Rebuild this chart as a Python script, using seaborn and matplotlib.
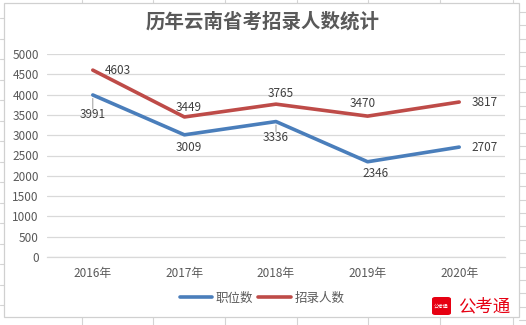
import matplotlib
matplotlib.use("Agg")
import matplotlib.pyplot as plt
from matplotlib.patches import Rectangle, FancyBboxPatch
from matplotlib.lines import Line2D
import pandas as pd
import seaborn as sns

years = ["2016年", "2017年", "2018年", "2019年", "2020年"]
positions = [3991, 3009, 3336, 2346, 2707]   # 职位数
recruits = [4603, 3449, 3765, 3470, 3817]    # 招录人数
series_names = ["职位数", "招录人数"]
y_ticks = [0, 500, 1000, 1500, 2000, 2500, 3000, 3500, 4000, 4500, 5000]

sns.set_theme(style="white")
plt.rcParams["font.family"] = ["Noto Sans CJK SC", "DejaVu Sans"]

W, H = 526, 325
fig = plt.figure(figsize=(W / 100, H / 100), dpi=100)
fig.patch.set_facecolor("white")


def fx(px):
    return px / W


def fy(py):
    return 1 - py / H


# spreadsheet cell lines behind the chart
cell = "#d4d4d4"
for x in [82, 153, 225, 297, 368, 440, 513]:
    fig.add_artist(Line2D([fx(x), fx(x)], [0, 1], color=cell, lw=0.8, zorder=0))
y = 18.0
while y < H:
    fig.add_artist(Line2D([0, fx(4)], [fy(y), fy(y)], color=cell, lw=0.8, zorder=0))
    y += 20.5
y = 12.0
while y < H:
    fig.add_artist(Line2D([fx(519), 1], [fy(y), fy(y)], color=cell, lw=0.8, zorder=0))
    y += 13.4

# chart area
fig.add_artist(Rectangle((fx(4), fy(317)), fx(515), 314 / H, facecolor="white",
                         edgecolor="#d0d0d0", lw=0.9, zorder=1))

ax = fig.add_axes([fx(47), fy(257), fx(458), 203 / H], zorder=2)
ax.set_facecolor("none")

df = pd.DataFrame({
    "x": list(range(len(years))) * 2,
    "value": positions + recruits,
    "series": [series_names[0]] * len(years) + [series_names[1]] * len(years),
})
palette = {series_names[0]: "#4a7ebb", series_names[1]: "#be4b48"}
sns.lineplot(data=df, x="x", y="value", hue="series", palette=palette,
             linewidth=2.6, ax=ax, legend=False, zorder=3)

ax.set_xlim(-0.5, len(years) - 0.5)
ax.set_ylim(0, 5000)
ax.set_yticks(y_ticks)
ax.set_yticklabels([str(v) for v in y_ticks])
ax.set_xticks(range(len(years)))
ax.set_xticklabels(years)
ax.grid(axis="y", color="#d9d9d9", lw=0.9)
ax.grid(axis="x", visible=False)
for s in ax.spines.values():
    s.set_visible(False)
ax.spines["bottom"].set_visible(True)
ax.spines["bottom"].set_color("#d9d9d9")
ax.spines["bottom"].set_linewidth(0.9)
ax.tick_params(axis="both", length=0, labelsize=8.5, colors="#595959")
ax.tick_params(axis="y", pad=6)
ax.tick_params(axis="x", pad=7)
ax.set_xlabel("")
ax.set_ylabel("")

lab = dict(fontsize=8.5, color="#404040", zorder=4)
k = 0.72  # pixels -> points

# 职位数 labels (offsets in pixels: dx, dy downward positive)
pos_off = [(0, 20), (4, 13), (0, 16), (8, 12), (24, 0)]
for i, (v, (dx, dy)) in enumerate(zip(positions, pos_off)):
    ha = "left" if dx > 20 else "center"
    ddx = 12 if dx > 20 else dx
    ax.annotate(str(v), (i, v), xytext=(ddx * k, -dy * k), textcoords="offset points",
                ha=ha, va="center", **lab)
    if i in (0, 2):
        # short leader line between the point and its label
        ax.annotate("", (i, v), xytext=(0, -(dy - 6) * k), textcoords="offset points",
                    arrowprops=dict(arrowstyle="-", color="#9a9a9a", lw=0.7,
                                    shrinkA=0, shrinkB=2.5), zorder=4)

rec_off = [(12, 0), (4, -9), (5, -11), (-5, -13), (12, 0)]
for i, (v, (dx, dy)) in enumerate(zip(recruits, rec_off)):
    ha = "left" if (i in (0, 4)) else "center"
    ax.annotate(str(v), (i, v), xytext=(dx * k, -dy * k), textcoords="offset points",
                ha=ha, va="center", **lab)

# title
fig.text(fx(263), fy(22), "历年云南省考招录人数统计", ha="center", va="center",
         fontsize=14, fontweight="bold", color="#595959", zorder=5)

# legend
handles = [Line2D([], [], color=palette[n], lw=2.6) for n in series_names]
leg = fig.legend(handles, series_names, loc="center", bbox_to_anchor=(fx(262), fy(298)),
                 ncol=2, frameon=False, fontsize=9, handlelength=2.6, handletextpad=0.3,
                 columnspacing=0.4, labelcolor="#595959")
leg.set_zorder(5)

# logo
fig.add_artist(FancyBboxPatch((fx(432), fy(315)), fx(19), 18 / H,
                              boxstyle="round,pad=0,rounding_size=0.006",
                              facecolor="#e60012", edgecolor="none", zorder=5))
fig.text(fx(441.5), fy(306), "公考通", ha="center", va="center", fontsize=3.5,
         color="white", zorder=6)
fig.text(fx(484), fy(306), "公考通", ha="center", va="center", fontsize=12.5,
         color="#e60012", zorder=6)

fig.savefig("out.png", dpi=100, facecolor="white")
